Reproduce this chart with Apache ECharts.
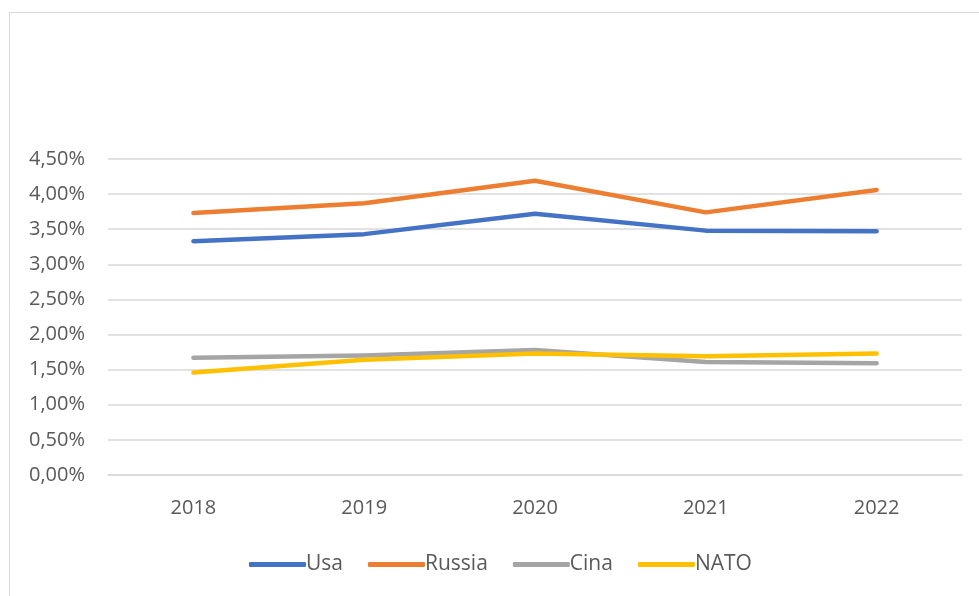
<!DOCTYPE html>
<html>
<head>
<meta charset="utf-8">
<script src="https://cdn.jsdelivr.net/npm/echarts@6/dist/echarts.min.js"></script>
<style>
  html, body { margin: 0; padding: 0; background: #fff; }
  #main { width: 979px; height: 596px; }
</style>
</head>
<body>
<div id="main"></div>
<script>
// years on the x axis
const years = ["2018", "2019", "2020", "2021", "2022"];
// values in percent
const usa = [3.33, 3.43, 3.72, 3.48, 3.47];
const russia = [3.73, 3.87, 4.19, 3.74, 4.06];
const cina = [1.67, 1.70, 1.78, 1.61, 1.59];
const nato = [1.46, 1.64, 1.73, 1.69, 1.73];

const colorList = ["#4472C4", "#ED7D31", "#A5A5A5", "#FFC000"];

const myChart = echarts.init(document.getElementById("main"));

function makeLine(name, data, color) {
    return {
        name: name,
        type: "line",
        data: data,
        showSymbol: false,
        symbol: "none",
        lineStyle: { color: color, width: 4.5, cap: "round", join: "round" },
        itemStyle: { color: color },
        emphasis: { disabled: true }
    };
}

const option = {
    animation: false,
    textStyle: { fontFamily: "Open Sans" },
    graphic: [{
        type: "rect",
        silent: true,
        shape: { x: 9.5, y: 12.5, width: 1000, height: 700 },
        style: { fill: "none", stroke: "#D9D9D9", lineWidth: 1 }
    }],
    legend: {
        left: 244,
        top: 549,
        itemWidth: 57,
        itemHeight: 5,
        itemGap: 25,
        icon: "roundRect",
        textStyle: { color: "#595959", fontSize: 21, padding: [0, 0, 0, -5] },
        data: ["Usa", "Russia", "Cina", "NATO"]
    },
    grid: {
        left: 108,
        right: 17,
        top: 159,
        bottom: 121
    },
    xAxis: {
        type: "category",
        boundaryGap: true,
        data: years,
        axisLine: { lineStyle: { color: "#D9D9D9", width: 1.5 } },
        axisTick: { show: false },
        axisLabel: { color: "#595959", fontSize: 20, margin: 23 }
    },
    yAxis: {
        type: "value",
        min: 0,
        max: 4.5,
        interval: 0.5,
        axisLine: { show: false },
        axisTick: { show: false },
        axisLabel: {
            color: "#595959",
            fontSize: 20,
            margin: 23,
            formatter: function (v) { return v.toFixed(2).replace(".", ",") + "%"; }
        },
        splitLine: { lineStyle: { color: "#D9D9D9", width: 1.5 } }
    },
    series: [
        makeLine("Usa", usa, colorList[0]),
        makeLine("Russia", russia, colorList[1]),
        makeLine("Cina", cina, colorList[2]),
        makeLine("NATO", nato, colorList[3])
    ]
};
myChart.setOption(option);
</script>
</body>
</html>
